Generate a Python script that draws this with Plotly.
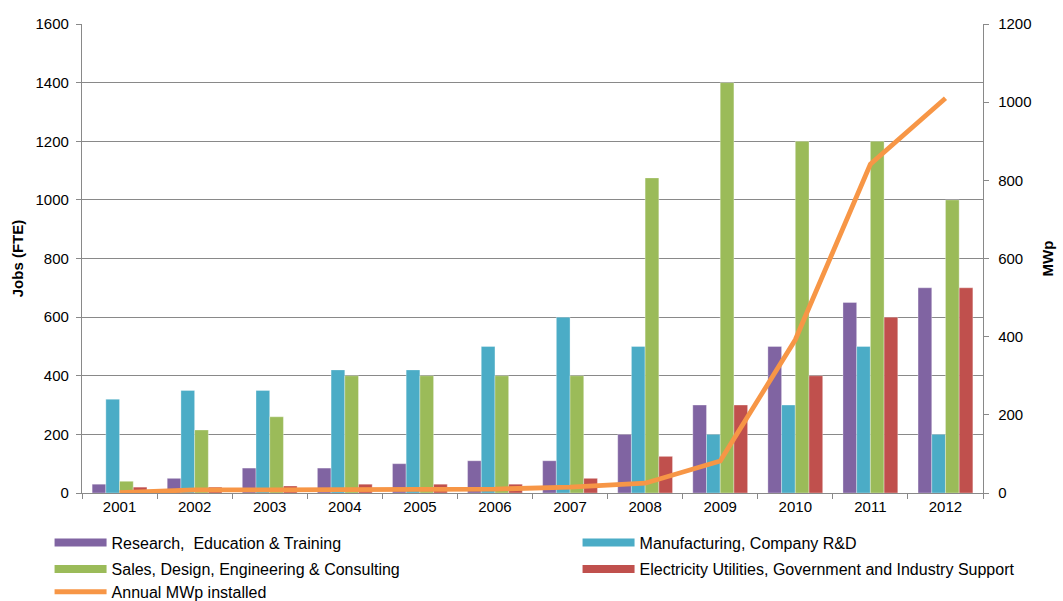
import plotly.graph_objects as go

years = ["2001", "2002", "2003", "2004", "2005", "2006",
         "2007", "2008", "2009", "2010", "2011", "2012"]

research = [30, 50, 85, 85, 100, 110, 110, 200, 300, 500, 650, 700]
manufacturing = [320, 350, 350, 420, 420, 500, 600, 500, 200, 300, 500, 200]
sales = [40, 215, 260, 400, 400, 400, 400, 1075, 1400, 1200, 1200, 1000]
utilities = [20, 20, 24, 30, 30, 30, 50, 125, 300, 400, 600, 700]
mwp_installed = [1, 8, 8, 9, 9, 10, 15, 25, 82, 392, 841, 1010]

series = [
    ("Research,  Education & Training", research, "#8064A2", "legend"),
    ("Manufacturing, Company R&D", manufacturing, "#4BACC6", "legend2"),
    ("Sales, Design, Engineering & Consulting", sales, "#9BBB59", "legend3"),
    ("Electricity Utilities, Government and Industry Support", utilities, "#C0504D", "legend4"),
]
line_name = "Annual MWp installed"
line_color = "#F79646"

FONT = "Liberation Sans, Arial, sans-serif"
GRID = "#898989"

fig = go.Figure()

for name, vals, color, _ in series:
    fig.add_trace(go.Bar(
        x=years, y=vals, name=name, showlegend=False,
        marker=dict(color=color, line=dict(color="rgba(255,255,255,0.55)", width=0.6)),
    ))

fig.add_trace(go.Scatter(
    x=years, y=mwp_installed, name=line_name, yaxis="y2", mode="lines",
    line=dict(color=line_color, width=4.8), showlegend=False,
))

# legend entries drawn as wide swatches
for name, _, color, lg in series:
    fig.add_trace(go.Scatter(
        x=[None], y=[None], mode="lines", name=name, legend=lg,
        line=dict(color=color, width=8), hoverinfo="skip",
    ))
fig.add_trace(go.Scatter(
    x=[None], y=[None], mode="lines", name=line_name, legend="legend5",
    line=dict(color=line_color, width=5), hoverinfo="skip",
))

legend_common = dict(
    orientation="h", xanchor="left", yanchor="middle", itemwidth=52,
    font=dict(family=FONT, size=16, color="#000000"),
    bgcolor="rgba(0,0,0,0)", borderwidth=0, itemclick=False,
)
col1, col2 = -0.036, 0.550
row1, row2, row3 = -0.106, -0.162, -0.211

fig.update_layout(
    width=1063, height=601,
    margin=dict(l=82, r=80, t=24, b=108, autoexpand=False),
    paper_bgcolor="white", plot_bgcolor="white",
    font=dict(family=FONT, size=15, color="#000000"),
    barmode="group", bargap=0.27, bargroupgap=0,
    xaxis=dict(
        type="category", showline=True, linecolor=GRID, linewidth=1.3,
        ticks="outside", tickson="boundaries", ticklen=5, tickcolor=GRID,
        showgrid=False, tickfont=dict(family=FONT, size=15),
    ),
    yaxis=dict(
        range=[0, 1600], dtick=200, showgrid=True, gridcolor=GRID, gridwidth=1.3,
        showline=True, linecolor=GRID, linewidth=1.3, ticks="outside", ticklen=5,
        tickcolor=GRID, zeroline=False, tickfont=dict(family=FONT, size=15),
        ticklabelstandoff=4,
        title=dict(text="<b>Jobs (FTE)</b>", font=dict(family=FONT, size=15), standoff=8),
    ),
    yaxis2=dict(
        range=[0, 1200], dtick=200, overlaying="y", side="right", showgrid=False,
        showline=True, linecolor=GRID, linewidth=1.3, ticks="outside", ticklen=5,
        tickcolor=GRID, zeroline=False, tickfont=dict(family=FONT, size=15),
        ticklabelstandoff=6,
        title=dict(text="<b>MWp</b>", font=dict(family=FONT, size=15), standoff=11),
    ),
    legend=dict(legend_common, x=col1, y=row1),
    legend2=dict(legend_common, x=col2, y=row1),
    legend3=dict(legend_common, x=col1, y=row2),
    legend4=dict(legend_common, x=col2, y=row2),
    legend5=dict(legend_common, x=col1, y=row3),
)

fig.write_html("out.html")
